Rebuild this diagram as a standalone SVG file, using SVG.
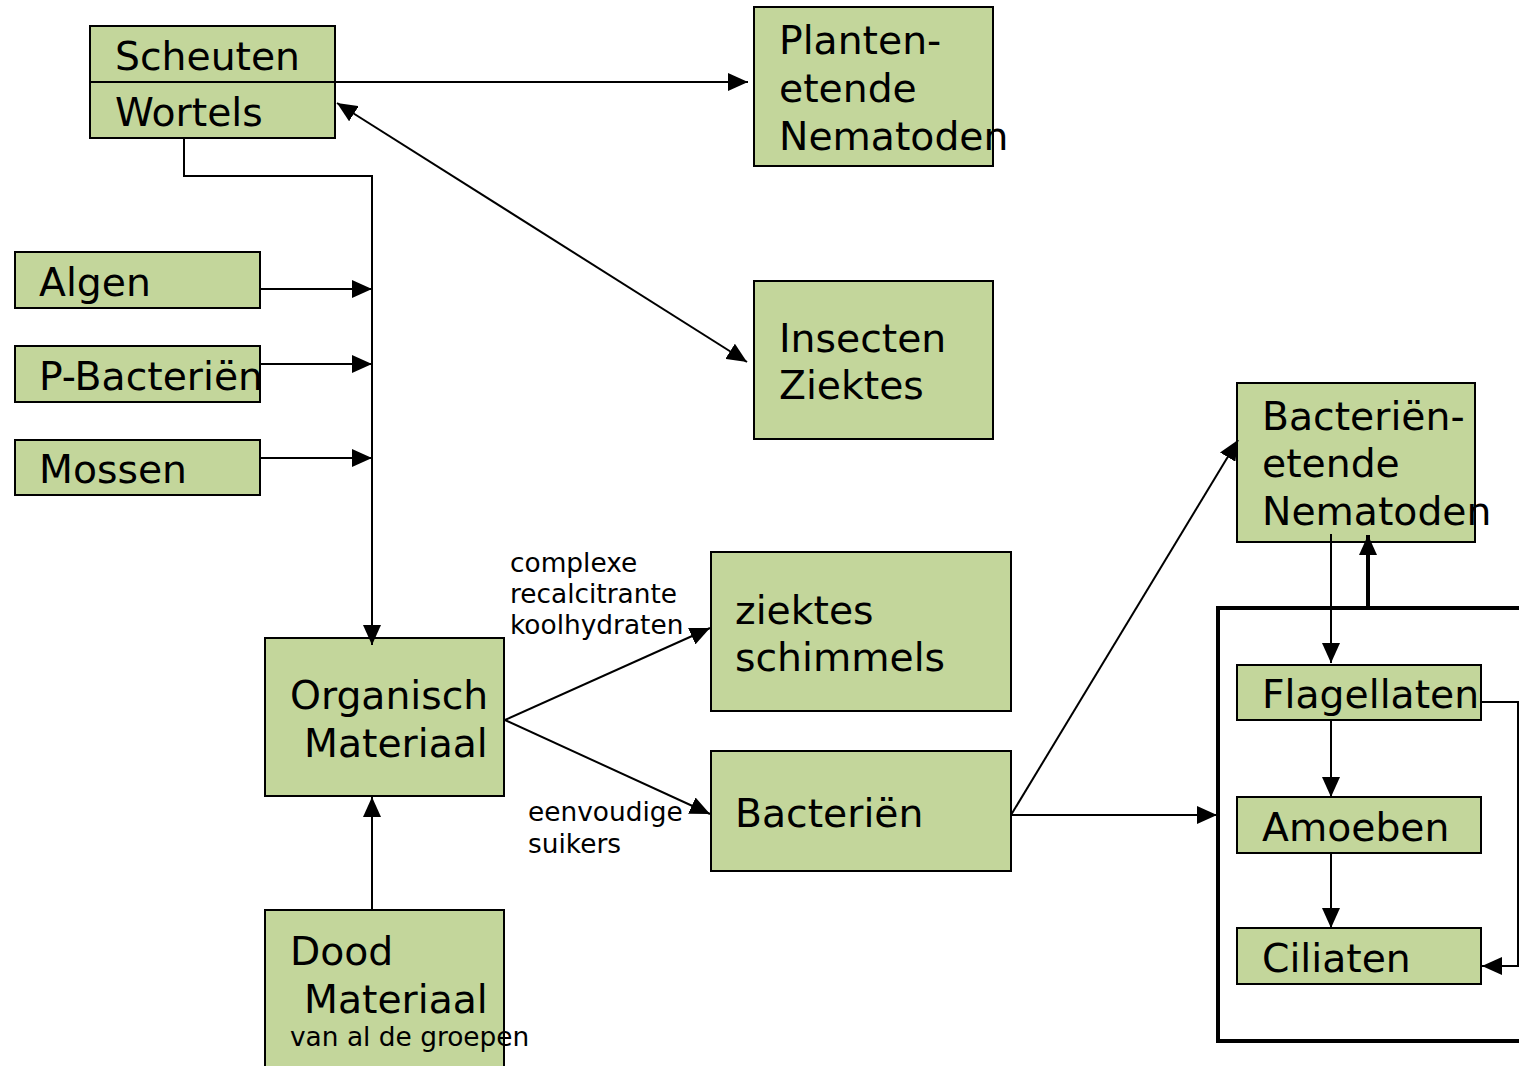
<svg xmlns="http://www.w3.org/2000/svg" width="1519" height="1066" viewBox="0 0 1519 1066">
<style>
.box{fill:#c3d69b;stroke:#000;stroke-width:2}
.t{font-family:"DejaVu Sans",Verdana,sans-serif;font-size:39.3px;fill:#000}
.s{font-family:"DejaVu Sans",Verdana,sans-serif;font-size:26.4px;fill:#000}
.c{fill:none;stroke:#000;stroke-width:2}
</style>
<defs>
<marker id="a" markerUnits="userSpaceOnUse" markerWidth="20" markerHeight="18" refX="20" refY="9" orient="auto-start-reverse"><path d="M0,0 L20,9 L0,18 z" fill="#000"/></marker>
</defs>
<rect width="1519" height="1066" fill="#fff"/>
<g id="container"><rect x="1218" y="608" width="310" height="433" fill="none" stroke="#000" stroke-width="4"/></g>
<g id="scheuten-wortels">
<rect class="box" x="90" y="26" width="245" height="112"/>
<line x1="90" y1="82" x2="335" y2="82" stroke="#000" stroke-width="2"/>
<text class="t" x="115" y="70">Scheuten</text>
<text class="t" x="115" y="126">Wortels</text>
</g>
<g id="planten">
<rect class="box" x="754" y="7" width="239" height="159"/>
<text class="t" x="779" y="54">Planten-</text>
<text class="t" x="779" y="102">etende</text>
<text class="t" x="779" y="150">Nematoden</text>
</g>
<g id="insecten">
<rect class="box" x="754" y="281" width="239" height="158"/>
<text class="t" x="779" y="352">Insecten</text>
<text class="t" x="779" y="399">Ziektes</text>
</g>
<g id="algen">
<rect class="box" x="15" y="252" width="245" height="56"/>
<text class="t" x="39" y="296">Algen</text>
</g>
<g id="pbacterien">
<rect class="box" x="15" y="346" width="245" height="56"/>
<text class="t" x="39" y="390">P-Bacteriën</text>
</g>
<g id="mossen">
<rect class="box" x="15" y="440" width="245" height="55"/>
<text class="t" x="39" y="483">Mossen</text>
</g>
<g id="organisch">
<rect class="box" x="265" y="638" width="239" height="158"/>
<text class="t" x="290" y="709">Organisch</text>
<text class="t" x="304" y="757">Materiaal</text>
</g>
<g id="dood">
<rect class="box" x="265" y="910" width="239" height="170"/>
<text class="t" x="290" y="965">Dood</text>
<text class="t" x="304" y="1013">Materiaal</text>
<text class="s" x="290" y="1046">van al de groepen</text>
</g>
<g id="labels">
<text class="s" x="510" y="572">complexe</text>
<text class="s" x="510" y="603">recalcitrante</text>
<text class="s" x="510" y="634">koolhydraten</text>
<text class="s" x="528" y="821">eenvoudige</text>
<text class="s" x="528" y="853">suikers</text>
</g>
<g id="ziektes">
<rect class="box" x="711" y="552" width="300" height="159"/>
<text class="t" x="735" y="624">ziektes</text>
<text class="t" x="735" y="671">schimmels</text>
</g>
<g id="bacterien">
<rect class="box" x="711" y="751" width="300" height="120"/>
<text class="t" x="735" y="827">Bacteriën</text>
</g>
<g id="bact-nematoden">
<rect class="box" x="1237" y="383" width="238" height="159"/>
<text class="t" x="1262" y="430">Bacteriën-</text>
<text class="t" x="1262" y="477">etende</text>
<text class="t" x="1262" y="525">Nematoden</text>
</g>
<g id="flagellaten">
<rect class="box" x="1237" y="665" width="244" height="55"/>
<text class="t" x="1262" y="708">Flagellaten</text>
</g>
<g id="amoeben">
<rect class="box" x="1237" y="797" width="244" height="56"/>
<text class="t" x="1262" y="841">Amoeben</text>
</g>
<g id="ciliaten">
<rect class="box" x="1237" y="928" width="244" height="56"/>
<text class="t" x="1262" y="972">Ciliaten</text>
</g>
<g id="connectors">
<path class="c" d="M335,82 H748" marker-end="url(#a)"/>
<path class="c" d="M337,103 L747,362" marker-start="url(#a)" marker-end="url(#a)"/>
<path class="c" d="M184,139 V176 H372 V645" marker-end="url(#a)"/>
<path class="c" d="M260,289 H372" marker-end="url(#a)"/>
<path class="c" d="M260,364 H372" marker-end="url(#a)"/>
<path class="c" d="M260,458 H372" marker-end="url(#a)"/>
<path class="c" d="M372,909 V797" marker-end="url(#a)"/>
<path class="c" d="M505,720 L710,628" marker-end="url(#a)"/>
<path class="c" d="M505,720 L710,814" marker-end="url(#a)"/>
<path class="c" d="M1011,815 L1238,440" marker-end="url(#a)"/>
<path class="c" d="M1011,815 H1217" marker-end="url(#a)"/>
<path class="c" d="M1331,534 V663" marker-end="url(#a)"/>
<path class="c" d="M1368,607 V535" style="stroke-width:4" marker-end="url(#a)"/>
<path class="c" d="M1331,721 V797" marker-end="url(#a)"/>
<path class="c" d="M1331,854 V928" marker-end="url(#a)"/>
<path class="c" d="M1482,702 H1518 V966 H1482" marker-end="url(#a)"/>
</g>
</svg>
